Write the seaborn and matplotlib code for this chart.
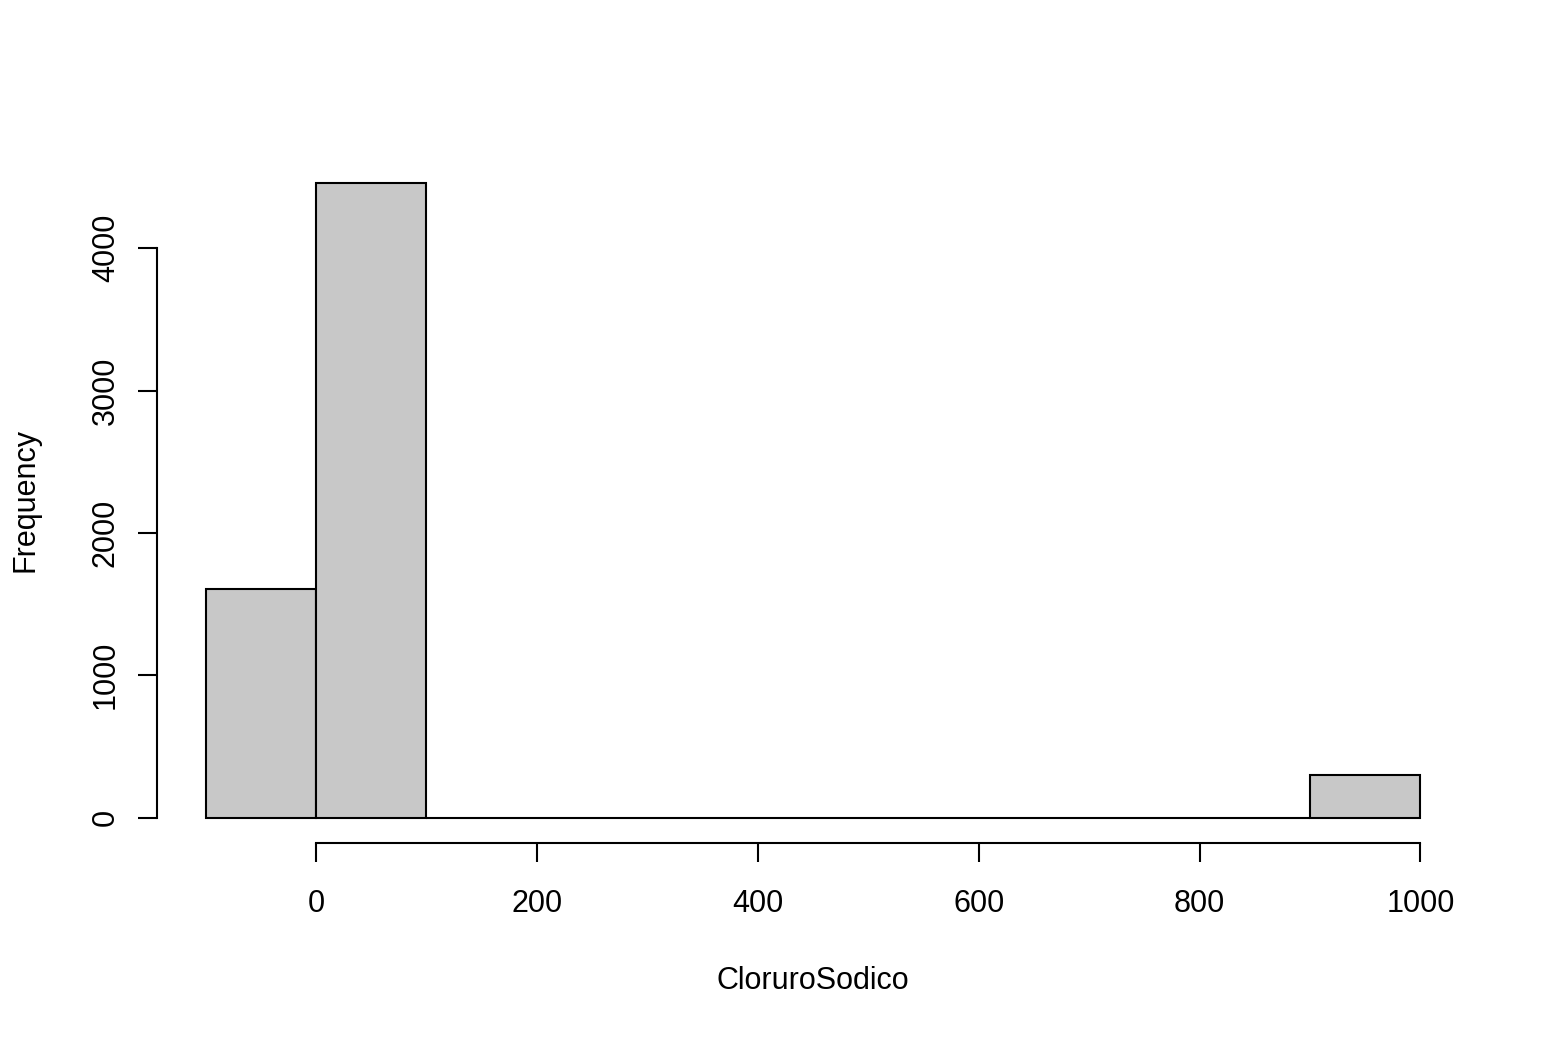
import numpy as np
import pandas as pd
import matplotlib
matplotlib.use("Agg")
import matplotlib.pyplot as plt
import seaborn as sns

# Data
bin_edges = [-100, 0, 100, 200, 300, 400, 500, 600, 700, 800, 900, 1000]
counts = [1607, 4456, 0, 0, 0, 0, 0, 0, 0, 0, 302]
x_ticks = [0, 200, 400, 600, 800, 1000]
y_ticks = [0, 1000, 2000, 3000, 4000]

sns.set_style("white")
plt.rcParams['font.family'] = ['Liberation Sans', 'DejaVu Sans']
plt.rcParams['text.color'] = 'black'
plt.rcParams['axes.labelcolor'] = 'black'

mids = [(bin_edges[i] + bin_edges[i + 1]) / 2 for i in range(len(counts))]
df = pd.DataFrame({"mid": mids, "count": counts})

fig = plt.figure(figsize=(15.5, 10.4), dpi=100)
ax = fig.add_axes([157 / 1550, 1 - 843 / 1040, (1469 - 157) / 1550, (843 - 158) / 1040])

sns.histplot(data=df, x="mid", weights="count", bins=bin_edges, ax=ax,
             color="#C8C8C8", alpha=1, edgecolor="black", linewidth=1.5)

xr = bin_edges[-1] - bin_edges[0]
ax.set_xlim(bin_edges[0] - 0.04 * xr, bin_edges[-1] + 0.04 * xr)
ymax = max(counts)
ax.set_ylim(-0.04 * ymax, ymax * 1.04)

for s in ["top", "right"]:
    ax.spines[s].set_visible(False)
ax.spines["left"].set_bounds(y_ticks[0], y_ticks[-1])
ax.spines["bottom"].set_bounds(x_ticks[0], x_ticks[-1])
for s in ["left", "bottom"]:
    ax.spines[s].set_linewidth(1.5)
    ax.spines[s].set_color("black")

ax.set_xticks(x_ticks)
ax.set_yticks(y_ticks)
ax.set_yticklabels([str(v) for v in y_ticks], rotation=90, va="center")
ax.tick_params(axis="both", bottom=True, left=True, direction="out", length=14,
               width=1.5, color="black", labelsize=22, labelcolor="black")
ax.tick_params(axis="x", pad=19)
ax.tick_params(axis="y", pad=12)

ax.set_xlabel("CloruroSodico", fontsize=22, labelpad=34, color="black")
ax.set_ylabel("Frequency", fontsize=22, labelpad=36, color="black")
ax.grid(False)

fig.savefig("out.png", dpi=100, facecolor="white")
